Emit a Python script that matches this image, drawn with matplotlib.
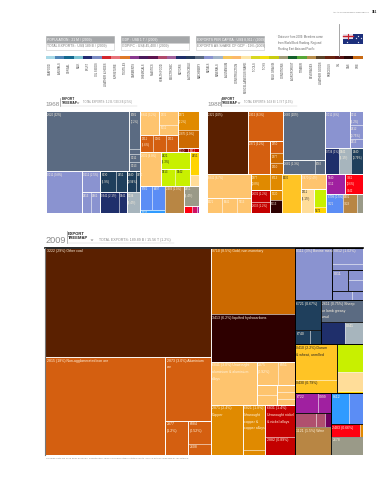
import matplotlib
matplotlib.use("Agg")
import matplotlib.pyplot as plt
from matplotlib.patches import Rectangle, Polygon

plt.rcParams['font.family'] = ['Liberation Sans Narrow', 'Liberation Sans', 'DejaVu Sans']

# community colours of the treemaps
slate = '#5b6b82'; peri = '#8a93d0'; teal = '#1f3f5c'; navy = '#1f2f6b'; ice = '#a7b5bd'
lorange = '#fec46e'; orange = '#d45f10'; amber = '#e08a00'; gold = '#cc6a00'
maroon = '#7a0a00'; red = '#c40000'; brown = '#5a2000'; black = '#2e0000'
lime = '#c8f000'; yellow = '#ffd400'; amber2 = '#ffc425'; pale = '#ffdd99'
blue = '#5b8df5'; sky = '#2f9bff'; tan = '#b88644'; grey = '#9a9a88'
scarlet = '#ff0010'; purple = '#a020a0'; plum = '#700060'; rose = '#b0506e'

strip_colors = ['#a6d8e6', '#4f86b8', '#14698f', '#7cc4d4', '#222a72', '#7b8cc4', '#d4262c',
                '#e8737a', '#e07a28', '#8a3a90', '#4a1a5c', '#5c1450', '#b04a6c', '#a0609c',
                '#1f2f6b', '#243a5c', '#5b6b82', '#8a93d0', '#a2b4c8', '#f6c65a', '#fcb96a',
                '#fde6a8', '#d8d820', '#f2e010', '#c8cc10', '#a09c78', '#14602c', '#58a838',
                '#b88e4c', '#5c4428', '#6a2410', '#5a1414', '#2a0808', '#c86a14']
strip_labels = ['SEAFOOD', 'ANIMALS', 'CEREAL', 'MILK', 'FRUIT', 'OIL SEEDS',
                'LEATHER & HIDES', 'FURNITURE', 'TEXTILES', 'GARMENTS', 'CHEMICALS',
                'PLASTICS', 'HEALTH/FOOD', 'ELECTRONIC', 'MOTORS', 'AUTOMOBILE', 'MACHINERY',
                'METALS', 'MINERALS', 'ALUMINIUM', 'CONSTRUCTION', 'MISCELLANEOUS WARE',
                'TOOLS', 'TOYS', 'MILK GRAINS', 'CONDITIONS', 'AGROFOREST', 'TIMBER',
                'BEVERAGES', 'LEATHER GOODS', 'PRECIOUS', 'OIL', 'GAS', 'ORE']

header_top = ['POPULATION : 21 M / (2009)', 'GDP : US$ 1 T / (2009)', 'EXPORTS PER CAPITA : US$ 8,911 / (2009)']
header_low = ['TOTAL EXPORTS : US$ 189 B / (2009)', 'GDP/PC : US$ 45,400 / (2009)', 'EXPORTS AS SHARE OF GDP : 19% (2009)']

# leaves are (share %, colour, label), lists are groups
map_1968 = [
    [
        [(32.8, slate, '2620 (32%)'),
         [(2.7, slate, '2681\n(2.2%)'), (0.35, slate), (0.55, slate, '0011'), (0.65, slate, '0013')]],
        [(9.9, peri, '0011 (9.8%)'),
         [(2.55, peri, '0111 (2.5%)'), [(1.3, peri, '0813'), (1.25, peri, '0461')]],
         [[(2.2, teal, '6130\n(1.9%)'), (1.5, teal, '0251')],
          [(2.6, navy, '0341 (2.1%)'), (1.1, navy, '0341')]],
         [[(1.2, teal, '0240\n(0.94%)'), (0.6, teal, '0352')], (1.8, ice, '0034\n(1.4%)')]],
    ],
    [
        [[[(3.0, lorange, '6841 (3.2%)'), [(1.6, lorange, '2831'), (1.2, lorange, '6511')]],
          [(1.5, orange, '2811\n(1.6%)'), (1.4, orange, '0081'), (1.3, orange, '2815')]],
         [(2.6, amber, '2871\n(2.2%)'), (2.5, gold, '2876 (1.9%)'), [(0.3, maroon, '3510'), (0.3, red, '6811')]]],
        [(4.5, lorange, '2631 (4.8%)'),
         [[(3.2, lime, '0421\n(1.3%)')], [(1.6, lime, '0513'), (1.7, lime, '0542')]],
         [(1.3, yellow, '0451'), (0.6, pale)]],
        [[[(1.9, blue, '6781'), (2.0, blue, '6497')], (0.6, sky, '1121')],
         (3.4, tan, '2483 (2.0%)'),
         [(2.1, grey, '0251\n(1.4%)'), [(0.4, scarlet), (0.2, '#d01060'), (0.1, purple)]]],
    ],
]

map_1988 = [
    [(16.5, brown, '2321 (10%)'),
     [(6.6, orange, '2815 (8.3%)'),
      [(4.8, orange, '2871 (3.2%)'), [(1.0, orange, '2850'), (0.85, gold, '2877'), (0.85, gold, '2810')]]],
     [(13.1, slate, '2680 (20%)'), [(2.9, slate, '2681 (1.3%)'), (0.9, slate, '2682')]],
     [[(5.8, peri, '0011 (8%)'), [(1.2, peri, '0011\n(1.2%)'), (1.1, peri, '0412\n(0.75%)'), (0.8, peri, '0813')]],
      [(2.3, navy, '0734 (1%)'), (2.1, ice, '0341\n(1.1%)'), (1.9, teal, '0240\n(0.79%)')]]],
    [[(6.8, lorange, '6841 (6.7%)'), [(1.5, lorange, '6321'), (1.5, lorange, '6841'), (1.3, lorange, '5213')]],
     [[(2.0, amber, '2877\n(0.8%)'), (1.2, amber, '6713')],
      [[(1.5, red, '2631 (1.2%)'), (1.4, red, '2632 (1.2%)')], [(0.8, amber, '1220'), (1.0, black, '6513')]]],
     (4.8, amber2, '6330'),
     [(2.4, lorange, '0470 (2.4%)'),
      [[(2.0, pale, '2911\n(1.1%)')], [(1.5, lime), (0.5, yellow, '5972')]]],
     [[(2.4, purple, '5840\n7512'), [(2.2, scarlet, '7361\n(0.6%)\n7442')]],
      [(2.1, blue, '6799 (0.5%)\n7321'), (1.8, tan, '8301\n7323'), (0.7, grey)]]],
]

map_2009_left = [
    [(27.5, brown, '3222 (29%) Other coal'),
     [(18.0, orange, '2815 (18%) Non-agglomerated iron ore'),
      [(4.4, orange, '2873 (3.0%) Aluminium\nore'),
       [(1.2, orange, '2877\n(1.2%)'), [(0.8, orange, '6884\n(0.52%)'), (0.4, orange, '2608')]]]]],
    [(8.5, gold, '9710 (8.5%) Gold, non-monetary'),
     (6.1, black, '3413 (6.2%) liquified hydrocarbons'),
     [(3.0, lorange, '6841 (3.0%) Unwrought\naluminium & aluminium\nalloys'),
      [[(0.75, lorange, '2875\n(0.92%)'), (0.6, lorange, '6851')],
       [[(0.3, lorange), (0.3, lorange)], [(0.2, lorange), (0.2, lorange), (0.15, lorange)]]]],
     [(2.45, amber, '2871 (2.4%)\nCopper'),
      [(1.55, amber, '6821 (1.8%)\nUnwrought\ncopper &\ncopper alloys'), (0.2, amber)],
      [(1.45, red, '6831 (1.4%)\nUnwrought nickel\n& nickel alloys'), (0.85, red, '2882 (0.89%)')]]],
]

map_2009_right = [
    [(3.0, peri, '0111 (3%) Bovine meat'),
     [(0.75, peri, '0812 (1.02%)'), (0.3, peri),
      [(0.5, peri, '0011'), [(0.2, peri), (0.25, peri)]],
      [(0.28, peri), (0.15, peri)]]],
    [[(1.15, teal, '6721 (0.67%)'), [(0.32, teal, '6740'), (0.23, teal)]],
     [(1.4, slate, '2611 (0.75%) Sheep\nor lamb greasy\nwool'),
      [(0.8, navy), (0.6, ice, '0341')]]],
    [[(2.25, amber2, '0410 (2.2%) Durum\n& wheat, unmilled'), (0.85, amber2, '0430 (0.79%)')],
     [(1.1, lime), (0.75, pale), (0.1, yellow)]],
    [[[(0.7, purple, '6722'), (0.4, purple, '0999')], [(0.45, rose), (0.2, rose), (0.12, plum)],
      (1.53, tan, '1121 (1.5%) Wine')],
     [[(0.85, sky, '8112'), (0.65, blue)], [(0.55, scarlet, '2483 (0.66%)'), (0.05, amber)], (0.9, grey, '2678')]],
]


def total(node):
    if isinstance(node, list):
        return sum(total(n) for n in node)
    return node[0]


def draw_tree(ax, node, x, y, w, h, across, line='white', size=2.0):
    # slice and dice: groups split by value, direction swaps with each level
    if not isinstance(node, list):
        ax.add_patch(Rectangle((x, y), w, h, facecolor=node[1], edgecolor=(1, 1, 1, 0.6), linewidth=0.4))
        if len(node) > 2:
            dark_text = node[1] in (lime, yellow, amber2, pale)
            ax.annotate(node[2], (x, y), xytext=(1.0, -1.2), textcoords='offset points', va='top', ha='left',
                        fontsize=size, linespacing=1.9, color='#222222' if dark_text else '#fff4e0')
        return
    pos = 0
    s = total(node)
    for n in node:
        f = total(n) / s
        if across:
            draw_tree(ax, n, x + pos * w, y, f * w, h, False, line, size)
        else:
            draw_tree(ax, n, x, y + pos * h, w, f * h, True, line, size)
        pos += f
    ax.add_patch(Rectangle((x, y), w, h, fill=False, edgecolor=line, linewidth=0.6))


def map_axes(fig, left, top, right, bottom):
    ax = fig.add_axes([left / 387, 1 - bottom / 480, (right - left) / 387, (bottom - top) / 480])
    ax.set_xlim(0, 1)
    ax.set_ylim(1, 0)
    ax.axis('off')
    return ax


fig = plt.figure(figsize=(3.87, 4.8), dpi=100)
page = fig.add_axes([0, 0, 1, 1])
page.set_xlim(0, 387)
page.set_ylim(480, 0)
page.axis('off')

page.text(333, 12, 'ATLAS OF ECONOMIC COMPLEXITY', fontsize=1.5, color='#777777', va='center')
page.text(372, 12, '361', fontsize=2.3, color='#222222', va='center', ha='left', fontweight='bold')

# header boxes
for x0, top_text, low_text in zip([45.7, 121, 195.5], header_top, header_low):
    page.add_patch(Rectangle((x0, 36), 68, 7, facecolor='#a5a7a9', edgecolor='#a5a7a9', linewidth=0.4))
    page.add_patch(Rectangle((x0, 43), 68, 7, facecolor='white', edgecolor='#c8c8c8', linewidth=0.4))
    page.text(x0 + 1.5, 39.5, top_text, fontsize=2.4, color='white', va='center')
    page.text(x0 + 1.5, 46.5, low_text, fontsize=2.4, color='#777777', va='center')

page.plot([276, 323], [35.5, 35.5], color='#d8d8d8', lw=0.3, ls=':')
page.text(278, 43, 'Data use from 2009. Members come\nfrom World Bank Ranking. Regional\nRanking East Asia and Pacific', fontsize=2.0,
          color='#666666', va='center', linespacing=1.7)
page.plot([338.5, 338.5], [24, 56], color='#999999', lw=0.6)

# flag
page.add_patch(Rectangle((343.3, 33.5), 19.4, 10.5, facecolor='#1c2f7c', edgecolor='none'))
page.add_patch(Rectangle((343.3, 33.5), 9.5, 5.2, facecolor='#e8dfe8', edgecolor='none'))
page.plot([343.3, 352.8], [36.1, 36.1], color='#c8202c', lw=1.0)
page.plot([348, 348], [33.5, 38.7], color='#c8202c', lw=0.8)
page.plot([346.5, 355.5, 358, 360.5, 358], [41.6, 38.2, 35.5, 38, 42], ls='none', marker='*', ms=1.5, color='white', mew=0)

# colour strip with its labels
for i, (col, lab) in enumerate(zip(strip_colors, strip_labels)):
    page.add_patch(Rectangle((45.7 + i * 9.32, 56), 9.32, 3.2, facecolor=col, edgecolor='none'))
    page.text(45.7 + (i + 0.5) * 9.32, 62, lab, rotation=90, fontsize=1.9, color='#444444', va='top', ha='center')


# year headings
def heading(year, x0, size, sep_x, y0, y1, tot, text_x, tri_x, small, line_end):
    page.text(x0, y1, year, fontsize=size, color='#8a8a8a', va='baseline', ha='left')
    page.plot([sep_x, sep_x], [y0, y1], color='#777777', lw=0.4)
    page.text(sep_x + 1.5, (y0 + y1) / 2 - 1, 'EXPORT\nTREEMAP', fontsize=small, fontweight='bold',
              color='#222222', va='center', linespacing=1.15)
    page.add_patch(Polygon([[tri_x - 1.5, y1 - 3.5], [tri_x + 1.5, y1 - 3.5], [tri_x, y1 - 2]], facecolor='#888888', edgecolor='none'))
    page.text(text_x, y1 - 3.5, tot, fontsize=small - 0.4, color='#888888', va='center')
    page.plot([sep_x + 1, line_end], [y1 + 0.3, y1 + 0.3], color='#cccccc', lw=0.3)


heading('1968', 45.7, 4.6, 60, 98, 106, 'TOTAL EXPORTS: 3.2 B / 130.3 B (2.5%)', 83, 78, 2.3, 137)
heading('1988', 207, 4.6, 220.5, 98, 106, 'TOTAL EXPORTS: 34.8 B / 1.79 T (1.9%)', 244, 239, 2.3, 297)
heading('2009', 45.7, 6.6, 66.7, 231, 243, 'TOTAL EXPORTS: 189.89 B / 15.56 T (1.2%)', 99, 92, 3.0, 174)

# treemaps
ax68 = map_axes(fig, 45.5, 111.3, 199, 213.3)
draw_tree(ax68, map_1968, 0, 0, 1, 1, True)
ax88 = map_axes(fig, 206.7, 111.3, 362.7, 213.3)
draw_tree(ax88, map_1988, 0, 0, 1, 1, False)

ax09 = map_axes(fig, 45.3, 247.7, 362.7, 455.3)
left_share = total(map_2009_left) / (total(map_2009_left) + total(map_2009_right))
draw_tree(ax09, map_2009_left, 0, 0, left_share, 1, True, 'white', 2.5)
draw_tree(ax09, map_2009_right, left_share, 0, 1 - left_share, 1, False, 'black', 2.5)
ax09.plot([0, 1], [0, 0], color='black', lw=1.2, clip_on=False)
ax09.plot([0, 0], [0, 1], color='#777777', lw=0.8, clip_on=False)

page.text(46, 458.8, 'Treemap data are 2009 flows in dollars. Parenthetical values are percentage of total exports. Source data is compared by an external.',
          fontsize=1.7, color='#888888', va='center')

fig.savefig('out.png', dpi=100)
